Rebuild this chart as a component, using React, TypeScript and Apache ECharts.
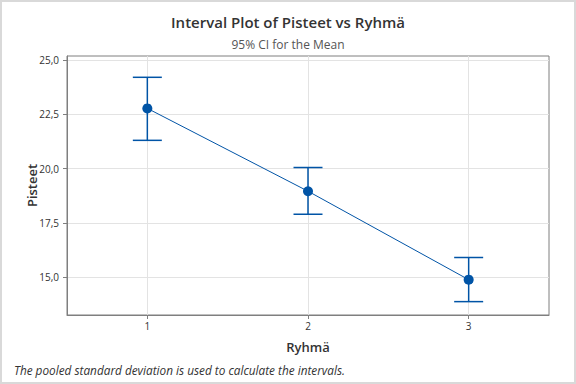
import React, { useEffect, useRef } from "react";
import * as echarts from "echarts";

const groups = [1, 2, 3];
const means = [22.77, 18.96, 14.89];
const lower = [21.3, 17.9, 13.88];
const upper = [24.2, 20.05, 15.91];
const yTicks = [15, 17.5, 20, 22.5, 25];
const xTicks = [1, 2, 3];

const BLUE = "#0054A6";
const FONT = "'Open Sans', 'Noto Sans', sans-serif";

export default function App() {
  const ref = useRef<HTMLDivElement>(null);
  useEffect(() => {
    document.body.style.margin = "0";
    const chart = echarts.init(ref.current!, null, { renderer: "svg" });
    const meanData = groups.map((g, i) => [g, means[i]]);
    const ciData = groups.map((g, i) => [g, lower[i], upper[i]]);
    chart.setOption({
      animation: false,
      backgroundColor: "#ffffff",
      textStyle: { fontFamily: FONT },
      title: {
        left: "center",
        top: 7,
        text: "Interval Plot of Pisteet vs Ryhmä",
        subtext: "95% CI for the Mean",
        itemGap: 5,
        textStyle: { fontFamily: FONT, fontSize: 15, fontWeight: 600, color: "#333333", lineHeight: 20 },
        subtextStyle: { fontFamily: FONT, fontSize: 12, color: "#555555", lineHeight: 14 },
      },
      graphic: [
        {
          type: "rect",
          shape: { x: 1, y: 1, width: 574, height: 382 },
          style: { fill: "none", stroke: "#d9d9d9", lineWidth: 2 },
          silent: true,
        },
        {
          type: "text",
          left: 14,
          top: 364,
          style: {
            text: "The pooled standard deviation is used to calculate the intervals.",
            font: `italic 11.8px ${FONT}`,
            fill: "#333333",
          },
        },
      ],
      grid: { left: 67, top: 56, width: 482, height: 259, show: true, borderColor: "#7f7f7f", borderWidth: 1 },
      xAxis: {
        type: "value",
        min: 0.5,
        max: 3.5,
        name: "Ryhmä",
        nameLocation: "middle",
        nameGap: 25,
        nameMoveOverlap: false,
        nameTextStyle: { fontFamily: FONT, fontSize: 13, fontWeight: 600, color: "#333333" },
        axisLine: { show: true, onZero: false, lineStyle: { color: "#7f7f7f" } },
        axisTick: { show: true, length: 4, customValues: xTicks, lineStyle: { color: "#7f7f7f" } },
        axisLabel: { customValues: xTicks, fontSize: 10, color: "#333333", margin: 6, fontFamily: FONT },
        splitLine: { show: true, lineStyle: { color: "#e3e3e3" } },
      },
      yAxis: {
        type: "value",
        min: 13.265,
        max: 25.18,
        name: "Pisteet",
        nameLocation: "middle",
        nameGap: 29,
        nameMoveOverlap: false,
        nameTextStyle: { fontFamily: FONT, fontSize: 13, fontWeight: 600, color: "#333333" },
        axisLine: { show: true, lineStyle: { color: "#7f7f7f" } },
        axisTick: { show: true, length: 4, customValues: yTicks, lineStyle: { color: "#7f7f7f" } },
        axisLabel: {
          customValues: yTicks,
          fontSize: 10,
          color: "#333333",
          margin: 8,
          fontFamily: FONT,
          formatter: (v: number) => v.toFixed(1).replace(".", ","),
        },
        splitLine: { show: true, lineStyle: { color: "#e3e3e3" } },
      },
      series: [
        {
          type: "custom",
          data: ciData,
          z: 3,
          renderItem: (params: any, api: any) => {
            const x = api.value(0);
            const lo = api.coord([x, api.value(1)]);
            const hi = api.coord([x, api.value(2)]);
            const half = 14.5;
            const style = { stroke: BLUE, lineWidth: 1.5, fill: "none" };
            return {
              type: "group",
              children: [
                { type: "line", shape: { x1: hi[0], y1: hi[1], x2: lo[0], y2: lo[1] }, style },
                { type: "line", shape: { x1: hi[0] - half, y1: hi[1], x2: hi[0] + half, y2: hi[1] }, style },
                { type: "line", shape: { x1: lo[0] - half, y1: lo[1], x2: lo[0] + half, y2: lo[1] }, style },
              ],
            };
          },
        },
        {
          type: "line",
          data: meanData,
          z: 4,
          symbol: "circle",
          symbolSize: 10,
          lineStyle: { color: BLUE, width: 1 },
          itemStyle: { color: BLUE },
        },
      ],
    });
    return () => chart.dispose();
  }, []);
  return <div ref={ref} style={{ position: "fixed", left: 0, top: 0, width: 576, height: 384 }} />;
}
